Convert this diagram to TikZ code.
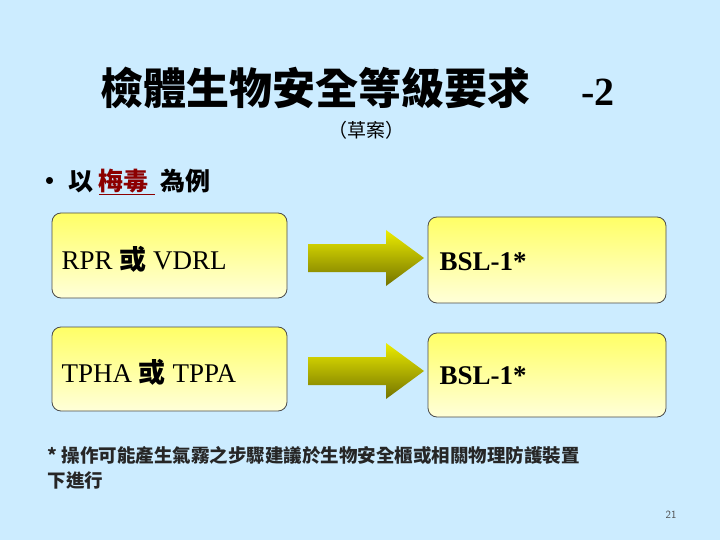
\documentclass[tikz,border=0pt]{standalone}
\usepackage{fontspec}
\setmainfont{Liberation Serif}
\newfontfamily\cjk{Noto Sans CJK TC}
\definecolor{bg}{HTML}{CCECFF}
\tikzset{
 ybox/.style={draw=black!70,line width=0.8pt,rounded corners=9pt,top color=yellow!60!white,bottom color=yellow!15!white},
 barrow/.style={draw=none,top color=yellow!85!olive,bottom color=olive!90!black},
 btxt/.style={font=\fontsize{27}{29}\selectfont\bfseries,anchor=west}
}
\begin{document}
\begin{tikzpicture}[x=1pt,y=-1pt]
\fill[bg] (0,0) rectangle (720,540);
\useasboundingbox (0,0) rectangle (720,540);
\node[font=\cjk\bfseries\fontsize{43}{45}\selectfont,anchor=center] (title) at (315,88) {檢體生物安全等級要求};
\node[font=\bfseries\fontsize{40}{42}\selectfont] (num) at (598,92) {-2};
\node[font=\cjk\fontsize{19}{21}\selectfont] (draft) at (366,130) {（草案）};
\node[font=\cjk\bfseries\fontsize{25}{27}\selectfont,anchor=west] (bul) at (34,182) {•\ 以 \textcolor{red!55!black}{\underline{梅毒\ }} 為例};
\draw[ybox] (52,213) rectangle (287,298);
\node[btxt] (a) at (58,259) {\fontsize{27}{29}\selectfont\mdseries RPR {\cjk\bfseries 或} VDRL};
\draw[ybox] (428,217) rectangle (666,303);
\node[btxt] (b) at (436,262) {BSL-1*};
\draw[ybox] (52,327) rectangle (287,411);
\node[btxt] (c) at (58,372) {\fontsize{27}{29}\selectfont\mdseries TPHA {\cjk\bfseries 或} TPPA};
\draw[ybox] (428,333) rectangle (666,417);
\node[btxt] (d) at (436,376) {BSL-1*};
\foreach \y in {258,371}{
 \path[barrow] (308,\y-14) -- (386,\y-14) -- (386,\y-28) -- (424,\y) -- (386,\y+28) -- (386,\y+14) -- (308,\y+14) -- cycle;
}
\node[font=\cjk\bfseries\fontsize{18.5}{20}\selectfont,anchor=west,text=black!85] (f1) at (44,455) {* 操作可能產生氣霧之步驟建議於生物安全櫃或相關物理防護裝置};
\node[font=\cjk\bfseries\fontsize{18.5}{20}\selectfont,anchor=west,text=black!85] (f2) at (44,480) {下進行};
\node[font=\sffamily\fontsize{11}{12}\selectfont,text=black!70] (pg) at (671,515) {21};
\end{tikzpicture}
\end{document}
